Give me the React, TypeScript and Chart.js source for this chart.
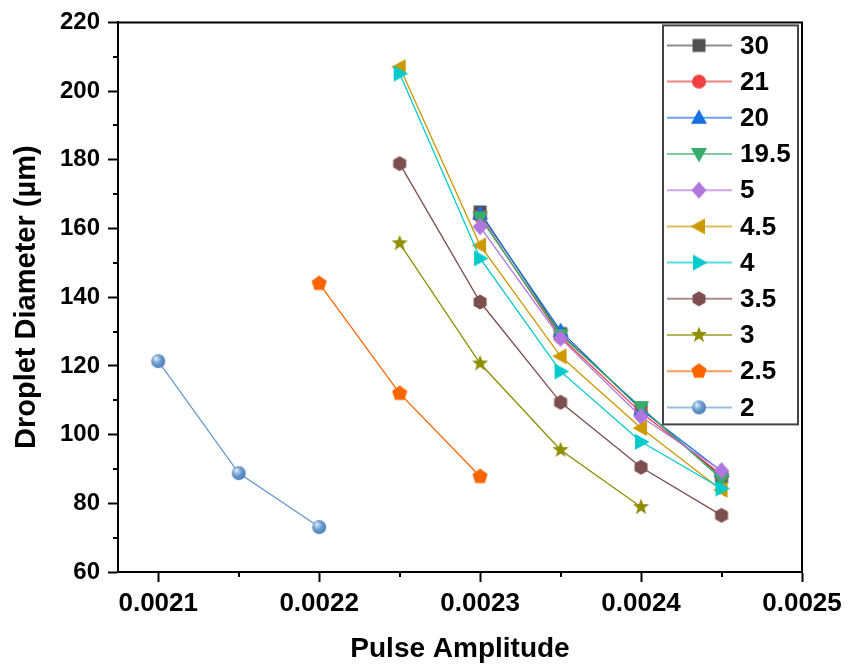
import React, { useEffect, useRef } from "react";
import { Chart, registerables } from "chart.js";

Chart.register(...registerables);

// ---- Data ----
const seriesNames = ["30", "21", "20", "19.5", "5", "4.5", "4", "3.5", "3", "2.5", "2"];
const xHigh = [0.0023, 0.00235, 0.0024, 0.00245];
const xMid = [0.00225, 0.0023, 0.00235, 0.0024, 0.00245];
const xS3 = [0.00225, 0.0023, 0.00235, 0.0024];
const xS25 = [0.0022, 0.00225, 0.0023];
const xS2 = [0.0021, 0.00215, 0.0022];

const s30 = [164.8, 129.4, 107.6, 87.7];
const s21 = [163.6, 128.4, 106.4, 88.3];
const s20 = [164.3, 130.2, 107.3, 89.3];
const s195 = [163.2, 129.0, 108.0, 87.0];
const s5 = [160.5, 128.0, 105.2, 89.5];
const s45 = [207.0, 155.1, 122.8, 101.9, 83.9];
const s4 = [205.1, 151.3, 118.4, 97.9, 84.3];
const s35 = [178.9, 138.6, 109.4, 90.5, 76.5];
const s3 = [155.7, 120.7, 95.5, 78.9];
const s25 = [144.0, 112.0, 87.8];
const s2 = [121.4, 88.8, 73.1];

const xTickValues = [0.0021, 0.0022, 0.0023, 0.0024, 0.0025];
const xMinorTicks = [0.00215, 0.00225, 0.00235, 0.00245];
const yTickValues = [60, 80, 100, 120, 140, 160, 180, 200, 220];
const yMinorTicks = [70, 90, 110, 130, 150, 170, 190, 210];

const seriesX = [xHigh, xHigh, xHigh, xHigh, xHigh, xMid, xMid, xMid, xS3, xS25, xS2];
const seriesY = [s30, s21, s20, s195, s5, s45, s4, s35, s3, s25, s2];
const colors = ["#515151", "#F14040", "#1A6FDF", "#37AD6B", "#B177DE", "#CC9900", "#00CBCC", "#7D4E4E", "#8E8E00", "#FB6501", "#6699CC"];
const shapes = ["square", "circle", "triUp", "triDown", "diamond", "triLeft", "triRight", "hexagon", "star", "pentagon", "sphere"];

function makeMarker(shape: string, color: string): HTMLCanvasElement {
  const c = document.createElement("canvas");
  const S = 20;
  c.width = S;
  c.height = S;
  const g = c.getContext("2d")!;
  const cx = S / 2, cy = S / 2;
  g.fillStyle = color;
  const poly = (pts: number[][]) => {
    g.beginPath();
    pts.forEach((p, i) => (i ? g.lineTo(p[0], p[1]) : g.moveTo(p[0], p[1])));
    g.closePath();
    g.fill();
  };
  const reg = (n: number, r: number, rot: number) => {
    const pts: number[][] = [];
    for (let i = 0; i < n; i++) {
      const a = rot + (i * 2 * Math.PI) / n;
      pts.push([cx + r * Math.cos(a), cy + r * Math.sin(a)]);
    }
    poly(pts);
  };
  switch (shape) {
    case "square":
      g.fillRect(cx - 6.5, cy - 6.5, 13, 13);
      break;
    case "circle":
      g.beginPath();
      g.arc(cx, cy, 7, 0, Math.PI * 2);
      g.fill();
      break;
    case "triUp":
      poly([[cx, cy - 8.5], [cx + 8, cy + 6], [cx - 8, cy + 6]]);
      break;
    case "triDown":
      poly([[cx, cy + 8.5], [cx + 8, cy - 6], [cx - 8, cy - 6]]);
      break;
    case "triLeft":
      poly([[cx - 8.5, cy], [cx + 6, cy - 8], [cx + 6, cy + 8]]);
      break;
    case "triRight":
      poly([[cx + 8.5, cy], [cx - 6, cy - 8], [cx - 6, cy + 8]]);
      break;
    case "diamond":
      poly([[cx, cy - 8.5], [cx + 7.5, cy], [cx, cy + 8.5], [cx - 7.5, cy]]);
      break;
    case "hexagon":
      reg(6, 7.5, Math.PI / 2);
      break;
    case "pentagon":
      reg(5, 8, -Math.PI / 2);
      break;
    case "star": {
      const pts: number[][] = [];
      for (let i = 0; i < 10; i++) {
        const r = i % 2 === 0 ? 8.5 : 3.6;
        const a = -Math.PI / 2 + (i * Math.PI) / 5;
        pts.push([cx + r * Math.cos(a), cy + r * Math.sin(a)]);
      }
      poly(pts);
      break;
    }
    case "sphere": {
      const r = 7;
      const grad = g.createRadialGradient(cx - 2.5, cy - 2.8, 0, cx - 1, cy - 1, r * 1.2);
      grad.addColorStop(0, "#ffffff");
      grad.addColorStop(0.18, "#b9d2ee");
      grad.addColorStop(0.55, "#6a9bd0");
      grad.addColorStop(1, "#4a7cb4");
      g.fillStyle = grad;
      g.beginPath();
      g.arc(cx, cy, r, 0, Math.PI * 2);
      g.fill();
      break;
    }
  }
  return c;
}

const frameAndMinorPlugin = {
  id: "frameAndMinor",
  afterDraw(chart: any) {
    const { ctx, chartArea } = chart;
    const xs = chart.scales.x;
    const ys = chart.scales.y;
    ctx.save();
    ctx.strokeStyle = "#000";
    ctx.lineWidth = 2;
    ctx.beginPath();
    ctx.moveTo(chartArea.left - 1, chartArea.top);
    ctx.lineTo(chartArea.right, chartArea.top);
    ctx.lineTo(chartArea.right, chartArea.bottom);
    ctx.stroke();
    ctx.beginPath();
    yMinorTicks.forEach((v) => {
      const y = Math.round(ys.getPixelForValue(v));
      ctx.moveTo(chartArea.left, y);
      ctx.lineTo(chartArea.left - 5, y);
    });
    xMinorTicks.forEach((v) => {
      const x = Math.round(xs.getPixelForValue(v));
      ctx.moveTo(x, chartArea.bottom);
      ctx.lineTo(x, chartArea.bottom + 5);
    });
    ctx.stroke();
    ctx.restore();
  },
};

const legendPlugin = {
  id: "boxLegend",
  afterDraw(chart: any) {
    const { ctx, chartArea } = chart;
    const left = chartArea.right - 139;
    const top = chartArea.top + 3;
    const right = chartArea.right - 4;
    const bottom = chartArea.top + 402;
    ctx.save();
    ctx.fillStyle = "#fff";
    ctx.fillRect(left, top, right - left, bottom - top);
    ctx.strokeStyle = "#444";
    ctx.lineWidth = 2;
    ctx.strokeRect(left, top, right - left, bottom - top);
    const firstY = top + 20;
    const step = 36.2;
    chart.data.datasets.forEach((ds: any, i: number) => {
      const y = firstY + i * step;
      ctx.globalAlpha = 0.65;
      ctx.strokeStyle = ds.borderColor;
      ctx.lineWidth = 2;
      ctx.beginPath();
      ctx.moveTo(left + 4, y);
      ctx.lineTo(left + 69, y);
      ctx.stroke();
      ctx.globalAlpha = 1;
      const m = ds.pointStyle as HTMLCanvasElement;
      ctx.drawImage(m, left + 36 - m.width / 2, y - m.height / 2);
      ctx.fillStyle = "#000";
      ctx.font = 'bold 26px "Liberation Sans", Arial, sans-serif';
      ctx.textBaseline = "middle";
      ctx.textAlign = "left";
      ctx.fillText(ds.label, left + 77, y + 1);
    });
    ctx.restore();
  },
};

export default function App() {
  const ref = useRef<HTMLCanvasElement>(null);
  useEffect(() => {
    const datasets = seriesNames.map((name, i) => ({
      label: name,
      data: seriesX[i].map((x, j) => ({ x, y: seriesY[i][j] })),
      borderColor: colors[i],
      backgroundColor: colors[i],
      borderWidth: 1.3,
      pointStyle: makeMarker(shapes[i], colors[i]),
      pointRadius: 8,
      pointHoverRadius: 8,
      showLine: true,
      fill: false,
      tension: 0,
      order: seriesNames.length - i,
    }));
    const font = '"Liberation Sans", Arial, sans-serif';
    const chart = new Chart(ref.current!, {
      type: "scatter",
      data: { datasets },
      options: {
        animation: false,
        responsive: false,
        devicePixelRatio: 1,
        layout: { padding: { left: 0, top: 22, right: 47, bottom: 0 } },
        plugins: { legend: { display: false }, tooltip: { enabled: false } },
        scales: {
          x: {
            type: "linear",
            min: 0.002075,
            max: 0.0025,
            afterBuildTicks: (s: any) => {
              s.ticks = xTickValues.map((v) => ({ value: v }));
            },
            afterFit: (s: any) => {
              s.height = 94;
            },
            ticks: {
              color: "#000",
              font: { family: font, size: 26, weight: "bold" },
              padding: 6,
              maxRotation: 0,
              callback: (v: any) => Number(v).toFixed(4),
            },
            grid: { drawOnChartArea: false, drawTicks: true, tickLength: 10, tickColor: "#000", tickWidth: 2 },
            border: { display: true, color: "#000", width: 2 },
            title: {
              display: true,
              text: "Pulse Amplitude",
              color: "#000",
              font: { family: font, size: 28, weight: "bold" },
              padding: { top: 4, bottom: 0 },
            },
          },
          y: {
            type: "linear",
            min: 60,
            max: 220,
            afterBuildTicks: (s: any) => {
              s.ticks = yTickValues.map((v) => ({ value: v }));
            },
            afterFit: (s: any) => {
              s.width = 118;
            },
            ticks: {
              color: "#000",
              font: { family: font, size: 24, weight: "bold" },
              padding: 8,
              callback: (v: any) => String(v),
            },
            grid: { drawOnChartArea: false, drawTicks: true, tickLength: 10, tickColor: "#000", tickWidth: 2 },
            border: { display: true, color: "#000", width: 2 },
            title: {
              display: true,
              text: "Droplet Diameter (µm)",
              color: "#000",
              font: { family: font, size: 29, weight: "bold" },
              padding: { top: 10, bottom: 0 },
            },
          },
        },
      },
      plugins: [frameAndMinorPlugin, legendPlugin],
    } as any);
    return () => chart.destroy();
  }, []);
  return (
    <div style={{ position: "fixed", left: 0, top: 0, width: 849, height: 666, background: "#fff" }}>
      <canvas ref={ref} width={849} height={666} />
    </div>
  );
}
